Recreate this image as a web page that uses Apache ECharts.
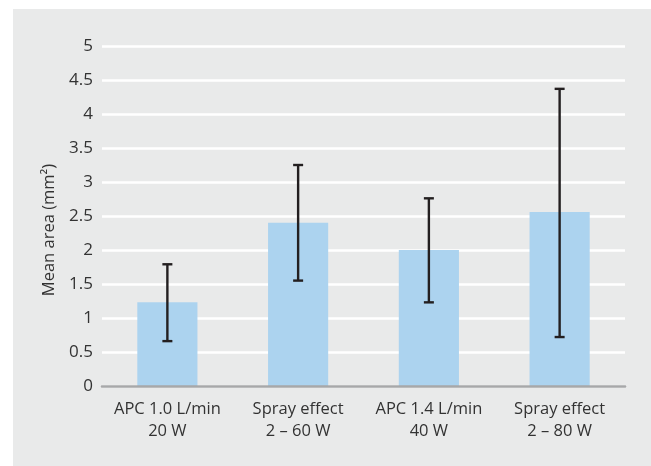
<!DOCTYPE html>
<html>
<head>
<meta charset="utf-8">
<script src="https://cdn.jsdelivr.net/npm/echarts@6/dist/echarts.min.js"></script>
<style>
  html, body { margin: 0; padding: 0; background: #fff; }
  #chart { width: 651px; height: 466px; }
</style>
</head>
<body>
<div id="chart"></div>
<script>
// values
const categories = ['APC 1.0 L/min\n20 W', 'Spray effect\n2 – 60 W', 'APC 1.4 L/min\n40 W', 'Spray effect\n2 – 80 W'];
const meanArea = [1.23, 2.40, 2.00, 2.56];
const errLow = [0.66, 1.55, 1.23, 0.72];
const errHigh = [1.79, 3.25, 2.76, 4.37];

const FONT = '"Open Sans", "Noto Sans", sans-serif';
const TEXT = '#333333';

const chart = echarts.init(document.getElementById('chart'));

const errData = categories.map((c, i) => [i, errLow[i], errHigh[i]]);

const option = {
  backgroundColor: '#ffffff',
  animation: false,
  graphic: [{
    type: 'rect',
    z: -10,
    silent: true,
    shape: { x: 13, y: 9, width: 651 - 13, height: 466 - 9 },
    style: { fill: '#e9eaea' }
  }],
  grid: {
    left: 102,
    right: 26,
    top: 46,
    bottom: 80
  },
  xAxis: {
    type: 'category',
    data: categories,
    axisLine: { lineStyle: { color: '#a7a8a9', width: 2.5 } },
    axisTick: { show: false },
    axisLabel: {
      interval: 0,
      hideOverlap: false,
      color: TEXT,
      fontFamily: FONT,
      fontSize: 16.5,
      lineHeight: 22,
      margin: 12
    },
    z: 5
  },
  yAxis: {
    type: 'value',
    min: 0,
    max: 5,
    interval: 0.5,
    name: 'Mean area (mm²)',
    nameLocation: 'middle',
    nameGap: 43,
    nameTextStyle: { color: TEXT, fontFamily: FONT, fontSize: 16.5, padding: [0, 0, 0, -28] },
    axisLine: { show: false },
    axisTick: { show: false },
    axisLabel: { color: TEXT, fontFamily: FONT, fontSize: 17, margin: 9 },
    splitLine: { lineStyle: { color: '#ffffff', width: 2.5 } }
  },
  series: [
    {
      name: 'Mean area',
      type: 'bar',
      data: meanArea,
      barWidth: '46%',
      itemStyle: { color: '#acd3ef' },
      z: 2
    },
    {
      name: 'Error',
      type: 'custom',
      data: errData,
      z: 3,
      renderItem: (params, api) => {
        const i = api.value(0);
        const lo = api.coord([i, api.value(1)]);
        const hi = api.coord([i, api.value(2)]);
        const half = 5;
        const style = { stroke: '#231f20', lineWidth: 2.4 };
        return {
          type: 'group',
          children: [
            { type: 'line', shape: { x1: hi[0], y1: hi[1], x2: lo[0], y2: lo[1] }, style },
            { type: 'line', shape: { x1: hi[0] - half, y1: hi[1], x2: hi[0] + half, y2: hi[1] }, style },
            { type: 'line', shape: { x1: lo[0] - half, y1: lo[1], x2: lo[0] + half, y2: lo[1] }, style }
          ]
        };
      }
    }
  ]
};

chart.setOption(option);
</script>
</body>
</html>
